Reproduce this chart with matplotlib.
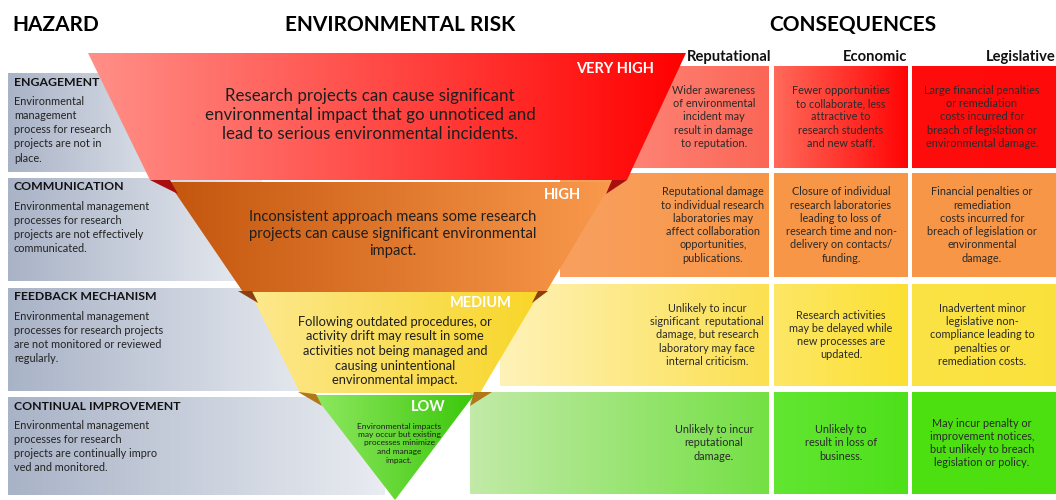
import numpy as np
import matplotlib
matplotlib.use("Agg")
import matplotlib.pyplot as plt
from matplotlib.colors import LinearSegmentedColormap
from matplotlib.patches import Polygon

plt.rcParams['font.family'] = ['Lato', 'DejaVu Sans']

# ---- chart content ----
headers = ["HAZARD", "ENVIRONMENTAL RISK", "CONSEQUENCES"]
consequence_cols = ["Reputational", "Economic", "Legislative"]

hazard_titles = ["ENGAGEMENT", "COMMUNICATION", "FEEDBACK MECHANISM", "CONTINUAL IMPROVEMENT"]
hazard_texts = [
    "Environmental\nmanagement\nprocess for research\nprojects are not in\nplace.",
    "Environmental management\nprocesses for research\nprojects are not effectively\ncommunicated.",
    "Environmental management\nprocesses for research projects\nare not monitored or reviewed\nregularly.",
    "Environmental management\nprocesses for research\nprojects are continually impro\nved and monitored.",
]

risk_levels = ["VERY HIGH", "HIGH", "MEDIUM", "LOW"]
risk_texts = [
    "Research projects can cause significant\nenvironmental impact that go unnoticed and\nlead to serious environmental incidents.",
    "Inconsistent approach means some research\nprojects can cause significant environmental\nimpact.",
    "Following outdated procedures, or\nactivity drift may result in some\nactivities not being managed and\ncausing unintentional\nenvironmental impact.",
    "Environmental impacts\nmay occur but existing\nprocesses minimize\nand manage\nimpact.",
]

reputational = [
    "Wider awareness\nof environmental\nincident may\nresult in damage\nto reputation.",
    "Reputational damage\nto individual research\nlaboratories may\naffect collaboration\nopportunities,\npublications.",
    "Unlikely to incur\nsignificant  reputational\ndamage, but research\nlaboratory may face\ninternal criticism.",
    "Unlikely to incur\nreputational\ndamage.",
]
economic = [
    "Fewer opportunities\nto collaborate, less\nattractive to\nresearch students\nand new staff.",
    "Closure of individual\nresearch laboratories\nleading to loss of\nresearch time and non-\ndelivery on contacts/\nfunding.",
    "Research activities\nmay be delayed while\nnew processes are\nupdated.",
    "Unlikely to\nresult in loss of\nbusiness.",
]
legislative = [
    "Large financial penalties\nor remediation\ncosts incurred for\nbreach of legislation or\nenvironmental damage.",
    "Financial penalties or\nremediation\ncosts incurred for\nbreach of legislation or\nenvironmental\ndamage.",
    "Inadvertent minor\nlegislative non-\ncompliance leading to\npenalties or\nremediation costs.",
    "May incur penalty or\nimprovement notices,\nbut unlikely to breach\nlegislation or policy.",
]

# colours per risk level (funnel band left->right, consequence boxes)
band_colors = [("#ff9088", "#ff0000"), ("#c4560e", "#f9994c"),
               ("#fde88e", "#f8d628"), ("#8fe860", "#3cc80c")]
rep_colors = [("#ff8a7c", "#fb6656"), ("#f9a060", "#f79646"),
              ("#fff2b8", "#fbe050"), ("#c2eaa8", "#74e044")]
eco_colors = [("#ff6a5a", "#ff0404"), ("#f79646", "#f79646"),
              ("#fde766", "#fbe032"), ("#62e632", "#4ee01a")]
leg_colors = [("#ff0c0c", "#fe0a0a"), ("#f79646", "#f79646"),
              ("#fbe346", "#fae13a"), ("#4ee012", "#4ce010")]
fold_colors = ["#a81010", "#8a4010", "#b07818"]

# ---- layout (pixel coordinates) ----
haz_rows = [(73, 172), (178, 281), (288, 391), (397, 495)]
haz_right = [200, 262, 330, 385]
con_rows = [(66, 168), (173, 277), (284, 386), (392, 494)]
rep_left = [600, 560, 500, 470]
rep_cx = [714, 713, 707, 714]
col_x = [(None, 769), (774, 908), (912, 1056)]
bands = [
    [(88, 53), (686, 53), (627, 180), (150, 180)],
    [(168, 182), (612, 182), (546, 292), (243, 292)],
    [(250, 292), (540, 292), (480, 393), (300, 393)],
    [(314, 395), (474, 395), (395, 500)],
]
folds = [
    [[(150, 180), (170, 180), (178, 194)], [(612, 180), (627, 180), (606, 194)]],
    [[(238, 291), (252, 291), (258, 303)], [(538, 291), (548, 291), (532, 303)]],
    [[(298, 392), (316, 394), (322, 406)], [(474, 392), (492, 392), (470, 406)]],
]
level_pos = [(615, 69), (562, 195), (481, 303), (428, 407)]
text_pos = [(370, 115), (393, 234), (395, 351), (399, 443)]
text_size = [12.2, 10.6, 9.3, 6.0]

fig = plt.figure(figsize=(10.56, 5), dpi=100)
ax = fig.add_axes([0, 0, 1, 1])


def grad(x0, x1, y0, y1, c0, c1, clip=None, z=1):
    cmap = LinearSegmentedColormap.from_list("g", [c0, c1])
    im = ax.imshow(np.linspace(0, 1, 256)[None, :], cmap=cmap,
                   extent=(x0, x1, y1, y0), aspect="auto", zorder=z,
                   interpolation="bilinear")
    if clip is not None:
        im.set_clip_path(clip)
    return im


# hazard boxes
for i, (y0, y1) in enumerate(haz_rows):
    grad(8, haz_right[i], y0, y1, "#a9b3c7", "#e9ecf1", z=1)
    ax.text(14, y0 + 9, hazard_titles[i], fontsize=8.8, fontweight="bold",
            color="#111111", va="center", ha="left", zorder=6)
    ax.text(14, y0 + 23, hazard_texts[i], fontsize=7.8, color="#222222",
            va="top", ha="left", linespacing=1.35, zorder=6)

# consequence boxes
con_texts = [reputational, economic, legislative]
con_cols = [rep_colors, eco_colors, leg_colors]
for i, (y0, y1) in enumerate(con_rows):
    for j, (xa, xb) in enumerate(col_x):
        x0 = rep_left[i] if xa is None else xa
        c0, c1 = con_cols[j][i]
        grad(x0, xb, y0, y1, c0, c1, z=1)
        cx = rep_cx[i] if j == 0 else (xa + xb) / 2 - (2 if j == 2 else 0)
        ax.text(cx, (y0 + y1) / 2, con_texts[j][i], fontsize=7.8,
                color="#2a2a2a", ha="center", va="center",
                linespacing=1.25, zorder=6)

# funnel bands
for i, pts in enumerate(bands):
    poly = Polygon(pts, closed=True, fc="none", ec="none", zorder=3)
    ax.add_patch(poly)
    xs = [p[0] for p in pts]
    c0, c1 = band_colors[i]
    grad(min(xs), max(xs), 40, 500, c0, c1, clip=poly, z=3)
for i, pair in enumerate(folds):
    for tri in pair:
        ax.add_patch(Polygon(tri, closed=True, fc=fold_colors[i], ec="none", zorder=4))

for i in range(4):
    ax.text(*level_pos[i], risk_levels[i], fontsize=10.5, fontweight="bold",
            color="white", ha="center", va="center", zorder=6)
    ax.text(*text_pos[i], risk_texts[i], fontsize=text_size[i], color="#1e1e1e",
            ha="center", va="center", linespacing=1.25, zorder=6)

# headers
ax.text(12, 25, headers[0], fontsize=15, fontweight="bold", ha="left", va="center")
ax.text(400, 25, headers[1], fontsize=15, fontweight="bold", ha="center", va="center")
ax.text(853, 25, headers[2], fontsize=15, fontweight="bold", ha="center", va="center")
col_right = [771, 907, 1056]
for j, name in enumerate(consequence_cols):
    ax.text(col_right[j], 57, name, fontsize=10.6, fontweight="bold",
            ha="right", va="center", color="#111111", zorder=6)

ax.set_xlim(0, 1056)
ax.set_ylim(500, 0)
ax.axis("off")
fig.savefig("out.png", dpi=100)
